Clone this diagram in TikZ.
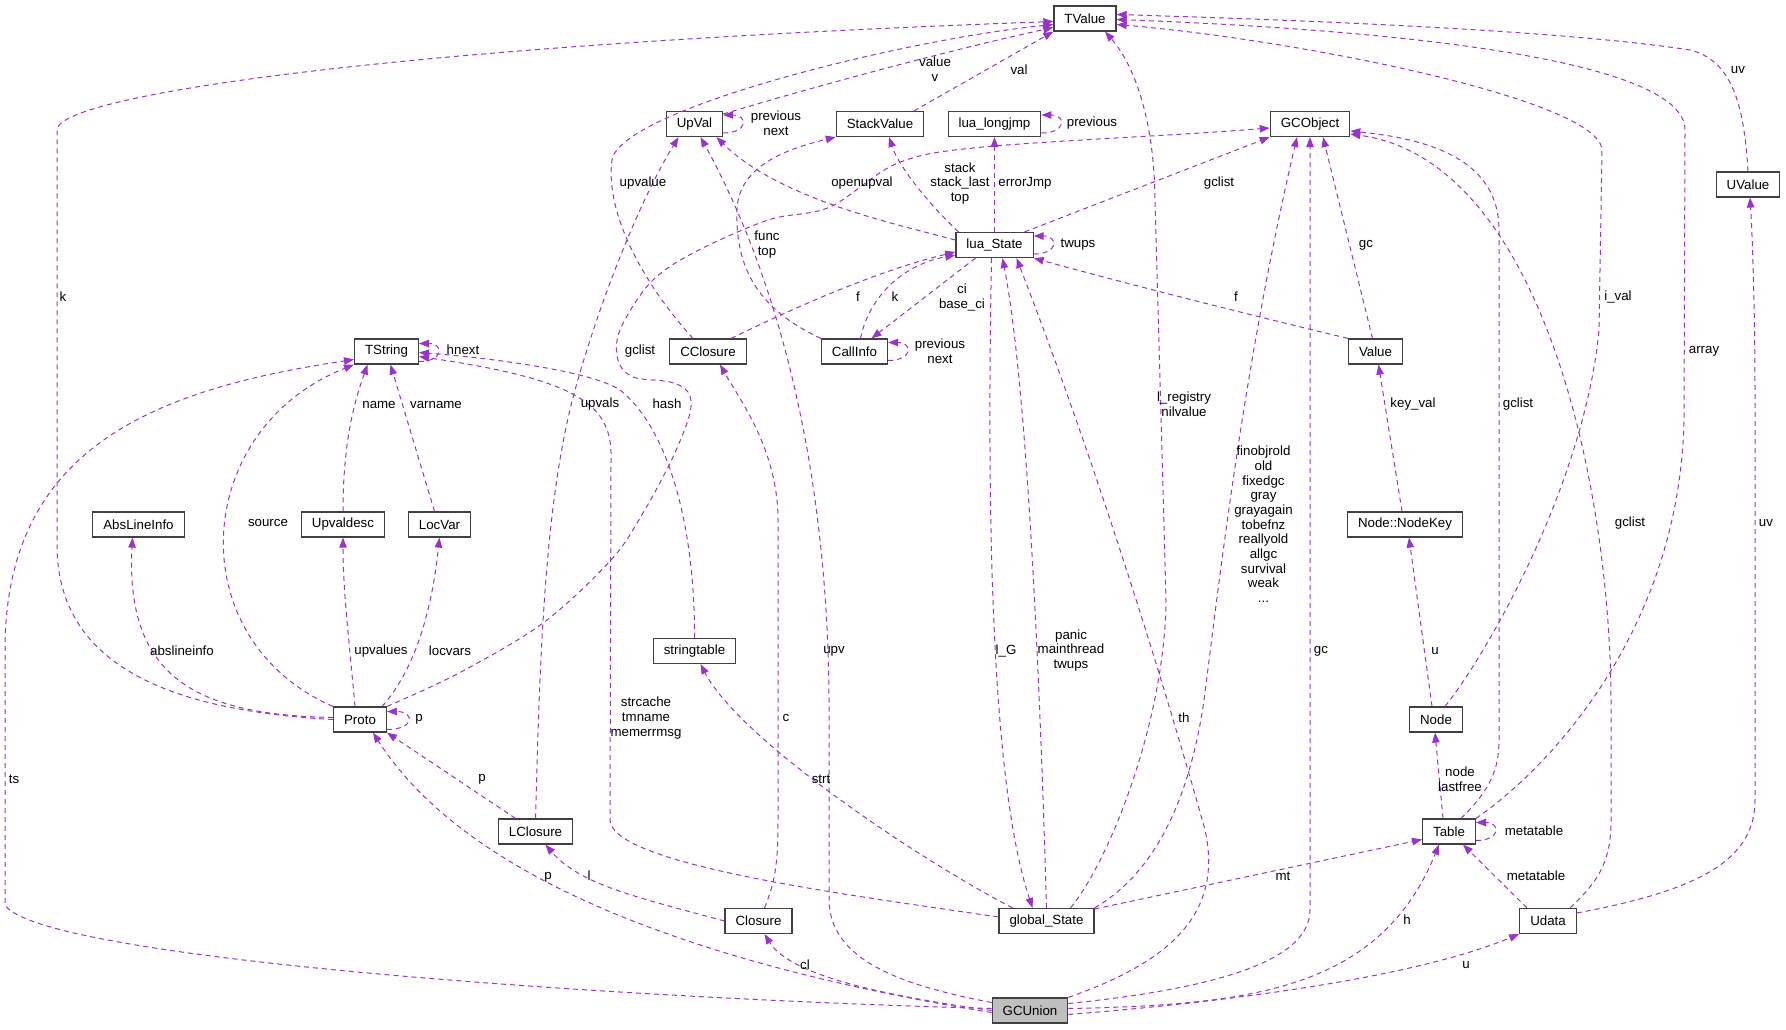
\documentclass[tikz,border=0pt]{standalone}
\usepackage{fontspec}
\setmainfont{Liberation Sans}
\usetikzlibrary{arrows.meta}
\definecolor{orchid}{RGB}{154,50,205}
\definecolor{boxline}{RGB}{64,64,64}
\definecolor{gcfill}{RGB}{191,191,191}

\begin{document}
\begin{tikzpicture}[x=1pt,y=-1pt,
  every node/.style={font=\fontsize{13.3}{14.7}\selectfont},
  cls/.style={draw=boxline,line width=1.2pt,fill=white,minimum height=25pt,inner xsep=10.5pt,inner ysep=0pt},
  uses/.style={draw=orchid,line width=1pt,dash pattern=on 5pt off 4pt,-{Triangle[length=10pt,width=7.5pt]}},
  lbl/.style={align=center,inner sep=0pt}]
  \path[fill=white] (0,0) rectangle (1786,1029);

  % classes
  \node[cls] (tvalue) at (1085,18.5) {TValue};
  \node[cls] (upval) at (694.5,124) {UpVal};
  \node[cls] (stackvalue) at (880,124) {StackValue};
  \node[cls] (longjmp) at (994.5,124) {lua\_longjmp};
  \node[cls] (gcobject) at (1310,124) {GCObject};
  \node[cls] (uvalue) at (1748,184.5) {UValue};
  \node[cls] (luastate) at (994.5,245) {lua\_State};
  \node[cls] (cclosure) at (708,351.5) {CClosure};
  \node[cls] (callinfo) at (854.5,351.5) {CallInfo};
  \node[cls] (tstring) at (386.5,351.5) {TString};
  \node[cls] (value) at (1375.5,351.5) {Value};
  \node[cls] (abslineinfo) at (138.5,524.5) {AbsLineInfo};
  \node[cls] (upvaldesc) at (343,524.5) {Upvaldesc};
  \node[cls] (locvar) at (439.5,524.5) {LocVar};
  \node[cls] (nodekey) at (1405,524.5) {Node::NodeKey};
  \node[cls] (stringtable) at (694.5,651) {stringtable};
  \node[cls] (proto) at (360,719.5) {Proto};
  \node[cls] (nodebox) at (1436,719.5) {Node};
  \node[cls] (lclosure) at (535.5,831.5) {LClosure};
  \node[cls] (table) at (1449,831.5) {Table};
  \node[cls] (closure) at (758.5,921) {Closure};
  \node[cls] (globalstate) at (1046.5,921) {global\_State};
  \node[cls] (udata) at (1548,921) {Udata};
  \node[cls,fill=gcfill] (gcunion) at (1030,1010.5) {GCUnion};

  % TValue
  \draw[uses] (proto.west) .. controls (200,712) and (57,680) .. (57,545) -- (57,130) .. controls (57,95) and (400,45) .. ([yshift=-3]tvalue.west);
  \draw[uses] ([xshift=-15]cclosure.north) .. controls (640,280) and (605,210) .. (612,160) .. controls (620,110) and (900,40) .. ([yshift=-6]tvalue.west);
  \draw[uses] ([yshift=10]upval.east) .. controls (820,85) and (950,50) .. ([yshift=-9]tvalue.west);
  \draw[uses] ([xshift=34]stackvalue.north) -- (tvalue.south west);
  \draw[uses] ([xshift=24]globalstate.north) .. controls (1110,860) and (1165,720) .. (1166,600) -- (1155,200) .. controls (1154,110) and (1130,60) .. ([xshift=20]tvalue.south);
  \draw[uses] ([xshift=9]nodebox.north) .. controls (1490,650) and (1585,480) .. (1599,330) -- (1602,150) .. controls (1600,100) and (1300,40) .. ([yshift=-6]tvalue.east);
  \draw[uses] (table.north east) .. controls (1560,760) and (1680,620) .. (1684,420) -- (1685,130) .. controls (1685,60) and (1400,30) .. ([yshift=-1]tvalue.east);
  \draw[uses] (uvalue.north) .. controls (1744,100) and (1730,60) .. (1690,50) .. controls (1560,30) and (1300,20) .. ([yshift=4]tvalue.east);

  % UpVal
  \draw[uses] ([yshift=-9]upval.east) .. controls +(25,0) and +(25,0) .. ([yshift=9]upval.east);
  \draw[uses] (lclosure.north) .. controls (540,650) and (545,500) .. (575,390) .. controls (600,300) and (640,200) .. ([xshift=-16]upval.south);
  \draw[uses] ([yshift=8]gcunion.west) .. controls (900,985) and (830,960) .. (829,900) -- (829,700) .. controls (828,500) and (790,300) .. ([xshift=6]upval.south);
  \draw[uses] ([yshift=5]luastate.west) .. controls (900,225) and (780,200) .. ([xshift=22]upval.south);

  % StackValue, lua_longjmp
  \draw[uses] (callinfo.north west) .. controls (760,310) and (735,270) .. (737,210) .. controls (738,165) and (790,148) .. (stackvalue.south west);
  \draw[uses] ([xshift=-36]luastate.north) .. controls (935,210) and (900,170) .. ([xshift=9]stackvalue.south);
  \draw[uses] (luastate.north) -- (longjmp.south);
  \draw[uses] ([yshift=-9]longjmp.east) .. controls +(25,0) and +(25,0) .. ([yshift=9]longjmp.east);

  % GCObject
  \draw[uses] ([xshift=30]luastate.north) -- (gcobject.south west);
  \draw[uses] plot[smooth,tension=0.55] coordinates {(proto.north east) (459,673) (543,623) (611,560) (643,513) (673,457) (690,413) (688,392) (670,382) (633,377) (618,360) (620,330) (650,283) (693,253) (768,220) (830,207) (898,163) (983,147) (1200,133) ([yshift=-4]gcobject.west)};
  \draw[uses] ([xshift=-3]value.north) -- ([xshift=13]gcobject.south);
  \draw[uses] ([yshift=7]gcunion.east) .. controls (1200,990) and (1310,965) .. (1310,910) -- (gcobject.south);
  \draw[uses] (globalstate.north east) .. controls (1160,870) and (1190,790) .. (1203,707) .. controls (1215,620) and (1240,380) .. ([xshift=-13]gcobject.south);
  \draw[uses] ([xshift=12]table.north) .. controls (1490,790) and (1499,770) .. (1499,740) -- (1499,230) .. controls (1499,165) and (1440,140) .. ([yshift=-7]gcobject.east);
  \draw[uses] ([xshift=22]udata.north) .. controls (1600,880) and (1611,860) .. (1611,820) -- (1611,700) .. controls (1610,480) and (1540,160) .. ([yshift=-10]gcobject.east);

  % lua_State
  \draw[uses] ([yshift=-9]luastate.east) .. controls +(25,0) and +(25,0) .. ([yshift=9]luastate.east);
  \draw[uses] (value.north west) .. controls (1250,315) and (1120,282) .. (luastate.south east);
  \draw[uses] ([xshift=6]callinfo.north) .. controls (868,300) and (900,265) .. ([yshift=3]luastate.south west);
  \draw[uses] ([xshift=23]cclosure.north) .. controls (800,305) and (880,270) .. ([yshift=-7]luastate.west);
  \draw[uses] (globalstate.north) .. controls (1042,750) and (1030,400) .. ([xshift=8]luastate.south);
  \draw[uses] (gcunion.north east) .. controls (1160,965) and (1225,920) .. (1205,830) .. controls (1180,740) and (1110,500) .. ([xshift=22]luastate.south);

  % CallInfo, global_State
  \draw[uses] ([xshift=-19]luastate.south) -- ([xshift=17]callinfo.north);
  \draw[uses] ([yshift=-9]callinfo.east) .. controls +(25,0) and +(25,0) .. ([yshift=9]callinfo.east);
  \draw[uses] ([xshift=-3]luastate.south) .. controls (987,500) and (990,780) .. ([xshift=-14]globalstate.north);

  % TString
  \draw[uses] ([yshift=-10]tstring.east) .. controls +(25,0) and +(25,0) .. ([yshift=8]tstring.east);
  \draw[uses] ([yshift=2]gcunion.west) .. controls (600,998) and (40,958) .. (5,905) -- (5,650) .. controls (5,450) and (150,390) .. ([yshift=-8]tstring.west);
  \draw[uses] (proto.north west) .. controls (180,640) and (190,430) .. (tstring.south west);
  \draw[uses] (upvaldesc.north) .. controls (343,440) and (355,400) .. ([xshift=-19]tstring.south);
  \draw[uses] ([xshift=-5]locvar.north) -- ([xshift=4]tstring.south);
  \draw[uses] (stringtable.north) .. controls (695,530) and (670,430) .. (620,390) .. controls (590,370) and (480,357) .. ([yshift=-1]tstring.east);
  \draw[uses] ([yshift=4]globalstate.west) .. controls (850,895) and (612,865) .. (610,820) -- (611,460) .. controls (613,405) and (580,380) .. ([yshift=-5]tstring.east);

  % Proto
  \draw[uses] ([yshift=-10]proto.east) .. controls +(28,0) and +(28,0) .. ([yshift=8]proto.east);
  \draw[uses] ([xshift=-20]lclosure.north) -- (proto.south east);
  \draw[uses] ([yshift=-2]gcunion.west) .. controls (760,975) and (480,900) .. ([xshift=13]proto.south);
  \draw[uses] ([yshift=2]proto.west) .. controls (200,715) and (125,680) .. ([xshift=-6]abslineinfo.south);
  \draw[uses] ([xshift=-5]proto.north) .. controls (349,640) and (343,590) .. (upvaldesc.south);
  \draw[uses] ([xshift=22]proto.north) .. controls (415,670) and (432,610) .. (locvar.south);

  % closures, stringtable
  \draw[uses] (gcunion.west) .. controls (880,995) and (790,975) .. ([xshift=6]closure.south);
  \draw[uses] ([xshift=6]closure.north) .. controls (776,880) and (778,860) .. (778,820) -- (778,520) .. controls (778,450) and (740,400) .. ([xshift=12]cclosure.south);
  \draw[uses] (closure.west) .. controls (640,898) and (580,885) .. ([xshift=10]lclosure.south);
  \draw[uses] ([xshift=-34]globalstate.north) .. controls (920,860) and (740,740) .. ([xshift=6]stringtable.south);

  % Table, Node, Udata
  \draw[uses] ([yshift=12]globalstate.east) -- ([yshift=-8]table.west);
  \draw[uses] ([yshift=-9]table.east) .. controls +(25,0) and +(25,0) .. ([yshift=9]table.east);
  \draw[uses] ([xshift=-21]udata.north) -- ([xshift=14]table.south);
  \draw[uses] ([yshift=2]gcunion.east) .. controls (1250,1005) and (1380,990) .. ([xshift=-10]table.south);
  \draw[uses] ([xshift=-6]table.north) -- ([xshift=-1]nodebox.south);
  \draw[uses] ([xshift=-4]nodebox.north) -- ([xshift=4]nodekey.south);
  \draw[uses] ([xshift=-3]nodekey.north) -- ([xshift=3]value.south);
  \draw[uses] ([yshift=-4]gcunion.east) .. controls (1250,1000) and (1420,975) .. (udata.south west);
  \draw[uses] ([yshift=8]udata.east) .. controls (1700,890) and (1755,860) .. (1755,800) -- (1755,400) .. controls (1755,300) and (1752,230) .. ([xshift=2]uvalue.south);

  % labels
  \node[lbl] (lk) at (63,297) {k};
  \node[lbl] (lvalue) at (935,69.5) {value\\v};
  \node[lbl] (lval) at (1019,70) {val};
  \node[lbl] (luv1) at (1738,70) {uv};
  \node[lbl] (lprevup) at (776,123) {previous\\next};
  \node[lbl] (lprevjmp) at (1092,123) {previous};
  \node[lbl] (lupvalue) at (643,183) {upvalue};
  \node[lbl] (lopenupval) at (862,183) {openupval};
  \node[lbl] (lstack) at (960,183.5) {stack\\stack\_last\\top};
  \node[lbl] (lerrorjmp) at (1025,183) {errorJmp};
  \node[lbl] (lgclist1) at (1219,183) {gclist};
  \node[lbl] (lgc1) at (1366,245) {gc};
  \node[lbl] (ltwups) at (1078,245) {twups};
  \node[lbl] (lfunc) at (767,244.5) {func\\top};
  \node[lbl] (lf1) at (858,297) {f};
  \node[lbl] (lk2) at (895,297) {k};
  \node[lbl] (lci) at (962,297.5) {ci\\base\_ci};
  \node[lbl] (lf2) at (1236,297) {f};
  \node[lbl] (lival) at (1618,297) {i\_val};
  \node[lbl] (lhnext) at (463,350) {hnext};
  \node[lbl] (lgclist2) at (640,351) {gclist};
  \node[lbl] (lprevci) at (940,351.5) {previous\\next};
  \node[lbl] (larray) at (1704,351) {array};
  \node[lbl] (lname) at (379,405) {name};
  \node[lbl] (lvarname) at (436,405) {varname};
  \node[lbl] (lupvals) at (600,404) {upvals};
  \node[lbl] (lhash) at (667,404) {hash};
  \node[lbl] (lregistry) at (1184,404.5) {l\_registry\\nilvalue};
  \node[lbl] (lkeyval) at (1413,404) {key\_val};
  \node[lbl] (lgclist3) at (1518,404) {gclist};
  \node[lbl] (lsource) at (268,523) {source};
  \node[lbl] (lgcmany) at (1263.5,524.3) {finobjrold\\old\\fixedgc\\gray\\grayagain\\tobefnz\\reallyold\\allgc\\survival\\weak\\...};
  \node[lbl] (lgclist4) at (1630,523) {gclist};
  \node[lbl] (luv2) at (1766,523) {uv};
  \node[lbl] (labsline) at (182,651) {abslineinfo};
  \node[lbl] (lupvalues) at (381,651) {upvalues};
  \node[lbl] (llocvars) at (450,651) {locvars};
  \node[lbl] (lupv) at (834,651) {upv};
  \node[lbl] (llg) at (1006,651) {l\_G};
  \node[lbl] (lpanic) at (1071,650.5) {panic\\mainthread\\twups};
  \node[lbl] (lgc2) at (1321,651) {gc};
  \node[lbl] (lu1) at (1435,651) {u};
  \node[lbl] (lp1) at (419,719) {p};
  \node[lbl] (lstrcache) at (646,718) {strcache\\tmname\\memerrmsg};
  \node[lbl] (lc) at (786,718) {c};
  \node[lbl] (lth) at (1184,718) {th};
  \node[lbl] (lnode) at (1460,779) {node\\lastfree};
  \node[lbl] (lts) at (14,779) {ts};
  \node[lbl] (lp2) at (482,779) {p};
  \node[lbl] (lstrt) at (821,779) {strt};
  \node[lbl] (lmeta1) at (1534,831) {metatable};
  \node[lbl] (lp3) at (548,877) {p};
  \node[lbl] (ll) at (589,876) {l};
  \node[lbl] (lmt) at (1283,876) {mt};
  \node[lbl] (lmeta2) at (1536,876) {metatable};
  \node[lbl] (lh) at (1407,920) {h};
  \node[lbl] (lcl) at (805,965) {cl};
  \node[lbl] (lu2) at (1466,965) {u};
\end{tikzpicture}
\end{document}
